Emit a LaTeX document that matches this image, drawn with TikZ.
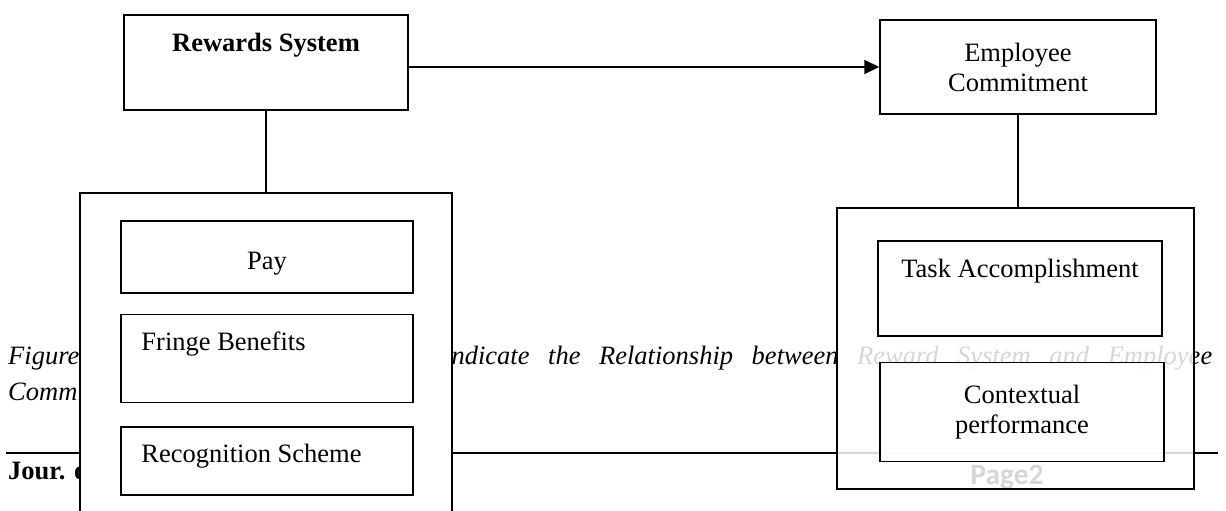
\documentclass[tikz,border=0pt]{standalone}
\usepackage{fontspec}
\setmainfont{Liberation Serif}
\newfontfamily\footfont{Carlito}
\usetikzlibrary{positioning,arrows.meta}
\newcommand{\docfont}{\fontsize{26.5}{30}\selectfont}

\begin{document}
\begin{tikzpicture}[x=1pt, y=-1pt,
    every node/.style={font=\docfont},
    box/.style={draw, fill=white, line width=1.5pt, inner sep=0pt, align=center},
    seebox/.style={box, fill opacity=0.84, text opacity=1},
    lbl/.style={inner sep=0pt, anchor=base},
    caption/.style={inner sep=0pt, anchor=base west, font=\docfont\itshape},
    link/.style={line width=1.3pt},
    arrow/.style={-{Triangle[length=15pt, width=14pt]}, line width=2pt}
  ]
  \clip (0,0) rectangle (1226,511);
  % page text behind the figure
  \node[caption] (capa) at (8,364) {Figure 1: Conceptual Framework to};
  \node[caption] (capb) at (444,364) {\makebox[768pt][s]{indicate the Relationship between Reward System and Employee}};
  \node[caption] (capc) at (8,400) {Commitment};
  \coordinate (rulel) at (6,453);
  \coordinate (ruler) at (1218,453);
  \draw[line width=2pt] (rulel) -- (ruler);
  \node[lbl, anchor=base west, font=\docfont\bfseries] (jour) at (8,479) {Jour. of};
  \node[lbl, font=\footfont\fontsize{29.5}{32}\selectfont\bfseries] (page) at (1007,484) {Page2};

  % rewards side
  \node[box, minimum width=284pt, minimum height=95pt] (rew) at (266,62.5) {};
  \node[lbl, font=\docfont\bfseries] (rewtxt) at ([yshift=-37pt]rew.north) {Rewards System};
  \node[box, minimum width=372pt, minimum height=350pt] (lout) at (266,368) {};
  \node[box, minimum width=292pt, minimum height=72pt] (pay) at (267,257) {};
  \node[lbl] (paytxt) at ([yshift=-12pt]pay.center) {Pay};
  \node[box, minimum width=292pt, minimum height=88pt, below=20pt of pay] (fringe) {};
  \node[lbl, anchor=base west] (fringetxt) at ([xshift=21pt, yshift=-37pt]fringe.north west) {Fringe Benefits};
  \node[box, minimum width=292pt, minimum height=68pt, below=23pt of fringe] (recog) {};
  \node[lbl, anchor=base west] (recogtxt) at ([xshift=21pt, yshift=-36pt]recog.north west) {Recognition Scheme};

  % commitment side
  \node[box, minimum width=276pt, minimum height=94pt] (emp) at (1018,67) {Employee\\Commitment};
  \node[seebox, minimum width=357pt, minimum height=281pt] (rout) at (1015.5,348.5) {};
  \node[seebox, minimum width=284pt, minimum height=95pt] (task) at (1020,288.5) {};
  \node[lbl] (tasktxt) at ([yshift=-37pt]task.north) {Task Accomplishment};
  \node[seebox, minimum width=284pt, minimum height=99pt, below=25pt of task, xshift=2pt] (ctx) {Contextual\\performance};

  \draw[link] (rew) -- (lout);
  \draw[link] (emp.south) -- (emp.south |- rout.north);
  \draw[arrow] (rew.east |- emp.west) -- (emp.west);
\end{tikzpicture}
\end{document}
